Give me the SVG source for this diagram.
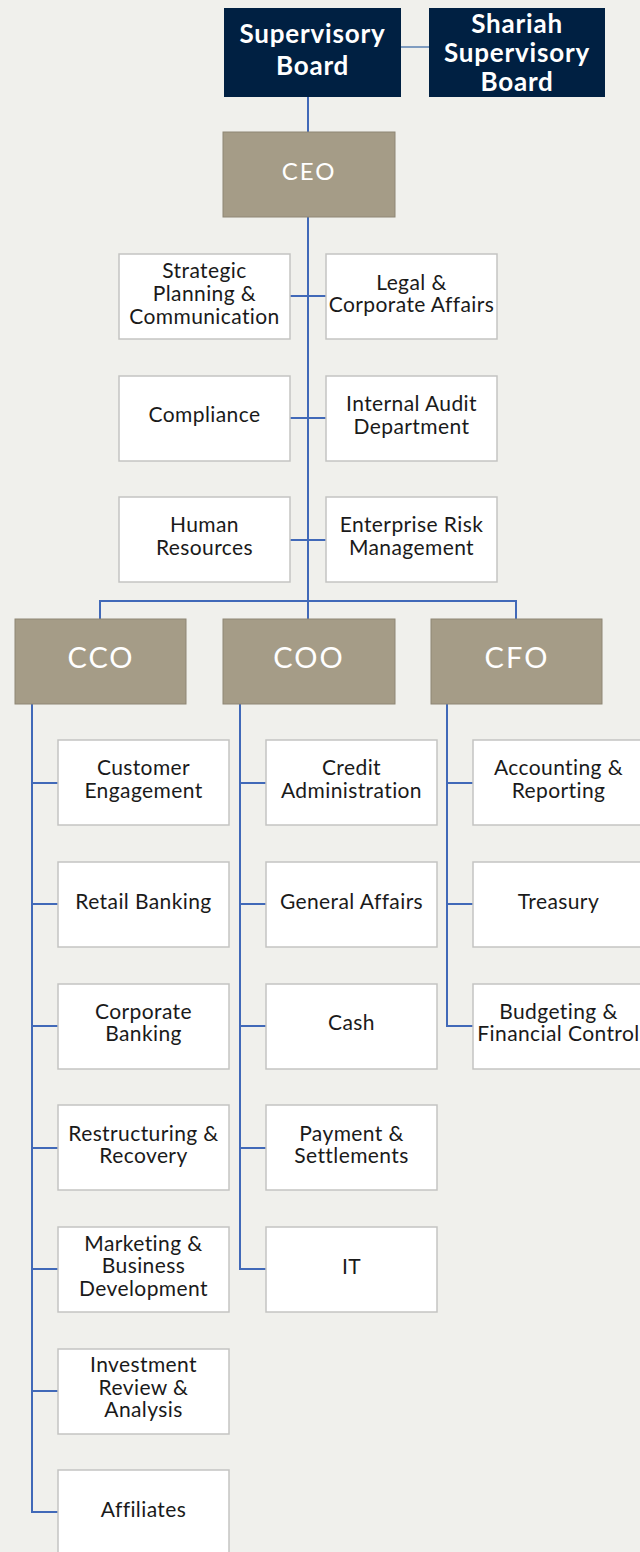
<svg xmlns="http://www.w3.org/2000/svg" width="640" height="1552" viewBox="0 0 640 1552">
<style>
.bg{fill:#f0f0ec}
.navy{fill:#002042}
.exec{fill:#a59c87;stroke:#8e8674;stroke-width:1}
.box{fill:#ffffff;stroke:#c4c4c2;stroke-width:1.5}
.t{font-family:Lato,"Liberation Sans",sans-serif;font-size:21px;letter-spacing:0.4px;fill:#1a1a1a;text-anchor:middle}
.tb{font-family:Lato,"Liberation Sans",sans-serif;font-size:26px;font-weight:bold;letter-spacing:0.8px;fill:#ffffff;text-anchor:middle}
.te{font-family:Lato,"Liberation Sans",sans-serif;font-size:24px;fill:#ffffff;text-anchor:middle;letter-spacing:2px}
.tx{font-family:Lato,"Liberation Sans",sans-serif;font-size:29px;fill:#ffffff;text-anchor:middle;letter-spacing:2px}
.c{fill:none;stroke:#4169b8;stroke-width:2}
.c2{fill:none;stroke:#7f9cc0;stroke-width:2}
</style>
<rect class="bg" x="0" y="0" width="640" height="1552"/>
<g id="connectors">
<line class="c2" x1="401" y1="47" x2="429" y2="47"/>
<line class="c" x1="308" y1="97" x2="308" y2="132"/>
<line class="c" x1="308" y1="217" x2="308" y2="601"/>
<line class="c" x1="290" y1="296" x2="326" y2="296"/>
<line class="c" x1="290" y1="418" x2="326" y2="418"/>
<line class="c" x1="290" y1="540" x2="326" y2="540"/>
<polyline class="c" points="100,619 100,601 516,601 516,619"/>
<line class="c" x1="308" y1="601" x2="308" y2="619"/>
<polyline class="c" points="32,704 32,1512 58,1512"/>
<line class="c" x1="32" y1="783" x2="58" y2="783"/>
<line class="c" x1="32" y1="904" x2="58" y2="904"/>
<line class="c" x1="32" y1="1026" x2="58" y2="1026"/>
<line class="c" x1="32" y1="1148" x2="58" y2="1148"/>
<line class="c" x1="32" y1="1269" x2="58" y2="1269"/>
<line class="c" x1="32" y1="1391" x2="58" y2="1391"/>
<polyline class="c" points="240,704 240,1269 266,1269"/>
<line class="c" x1="240" y1="783" x2="266" y2="783"/>
<line class="c" x1="240" y1="904" x2="266" y2="904"/>
<line class="c" x1="240" y1="1026" x2="266" y2="1026"/>
<line class="c" x1="240" y1="1148" x2="266" y2="1148"/>
<polyline class="c" points="447,704 447,1026 473,1026"/>
<line class="c" x1="447" y1="783" x2="473" y2="783"/>
<line class="c" x1="447" y1="904" x2="473" y2="904"/>
</g>
<g id="supervisory-board"><rect class="navy" x="224" y="8" width="177" height="89"/><text class="tb" x="312.5" y="43">Supervisory</text><text class="tb" x="312.5" y="75">Board</text></g>
<g id="shariah-board"><rect class="navy" x="429" y="8" width="176" height="89"/><text class="tb" x="517" y="33">Shariah</text><text class="tb" x="517" y="62">Supervisory</text><text class="tb" x="517" y="91">Board</text></g>
<g id="ceo"><rect class="exec" x="223" y="132" width="172" height="85"/><text class="te" x="309" y="180">CEO</text></g>
<g id="strategic"><rect class="box" x="119" y="254" width="171" height="85"/><text class="t" x="204.5" y="278">Strategic</text><text class="t" x="204.5" y="301">Planning &amp;</text><text class="t" x="204.5" y="324">Communication</text></g>
<g id="legal"><rect class="box" x="326" y="254" width="171" height="85"/><text class="t" x="411.5" y="290">Legal &amp;</text><text class="t" x="411.5" y="312">Corporate Affairs</text></g>
<g id="compliance"><rect class="box" x="119" y="376" width="171" height="85"/><text class="t" x="204.5" y="422">Compliance</text></g>
<g id="internal-audit"><rect class="box" x="326" y="376" width="171" height="85"/><text class="t" x="411.5" y="411">Internal Audit</text><text class="t" x="411.5" y="434">Department</text></g>
<g id="hr"><rect class="box" x="119" y="497" width="171" height="85"/><text class="t" x="204.5" y="532">Human</text><text class="t" x="204.5" y="555">Resources</text></g>
<g id="erm"><rect class="box" x="326" y="497" width="171" height="85"/><text class="t" x="411.5" y="532">Enterprise Risk</text><text class="t" x="411.5" y="555">Management</text></g>
<g id="cco"><rect class="exec" x="15" y="619" width="171" height="85"/><text class="tx" x="101" y="668">CCO</text></g>
<g id="coo"><rect class="exec" x="223" y="619" width="172" height="85"/><text class="tx" x="309" y="668">COO</text></g>
<g id="cfo"><rect class="exec" x="431" y="619" width="171" height="85"/><text class="tx" x="517" y="668">CFO</text></g>
<g id="customer-engagement"><rect class="box" x="58" y="740" width="171" height="85"/><text class="t" x="143.5" y="775">Customer</text><text class="t" x="143.5" y="798">Engagement</text></g>
<g id="retail-banking"><rect class="box" x="58" y="862" width="171" height="85"/><text class="t" x="143.5" y="909">Retail Banking</text></g>
<g id="corporate-banking"><rect class="box" x="58" y="984" width="171" height="85"/><text class="t" x="143.5" y="1019">Corporate</text><text class="t" x="143.5" y="1041">Banking</text></g>
<g id="restructuring"><rect class="box" x="58" y="1105" width="171" height="85"/><text class="t" x="143.5" y="1141">Restructuring &amp;</text><text class="t" x="143.5" y="1163">Recovery</text></g>
<g id="marketing"><rect class="box" x="58" y="1227" width="171" height="85"/><text class="t" x="143.5" y="1251">Marketing &amp;</text><text class="t" x="143.5" y="1273">Business</text><text class="t" x="143.5" y="1296">Development</text></g>
<g id="investment"><rect class="box" x="58" y="1349" width="171" height="85"/><text class="t" x="143.5" y="1372">Investment</text><text class="t" x="143.5" y="1395">Review &amp;</text><text class="t" x="143.5" y="1417">Analysis</text></g>
<g id="affiliates"><rect class="box" x="58" y="1470" width="171" height="90"/><text class="t" x="143.5" y="1517">Affiliates</text></g>
<g id="credit-admin"><rect class="box" x="266" y="740" width="171" height="85"/><text class="t" x="351.5" y="775">Credit</text><text class="t" x="351.5" y="798">Administration</text></g>
<g id="general-affairs"><rect class="box" x="266" y="862" width="171" height="85"/><text class="t" x="351.5" y="909">General Affairs</text></g>
<g id="cash"><rect class="box" x="266" y="984" width="171" height="85"/><text class="t" x="351.5" y="1030">Cash</text></g>
<g id="payment"><rect class="box" x="266" y="1105" width="171" height="85"/><text class="t" x="351.5" y="1141">Payment &amp;</text><text class="t" x="351.5" y="1163">Settlements</text></g>
<g id="it"><rect class="box" x="266" y="1227" width="171" height="85"/><text class="t" x="351.5" y="1274">IT</text></g>
<g id="accounting"><rect class="box" x="473" y="740" width="180" height="85"/><text class="t" x="558.5" y="775">Accounting &amp;</text><text class="t" x="558.5" y="798">Reporting</text></g>
<g id="treasury"><rect class="box" x="473" y="862" width="180" height="85"/><text class="t" x="558.5" y="909">Treasury</text></g>
<g id="budgeting"><rect class="box" x="473" y="984" width="180" height="85"/><text class="t" x="558.5" y="1019">Budgeting &amp;</text><text class="t" x="558.5" y="1041">Financial Control</text></g>
</svg>
